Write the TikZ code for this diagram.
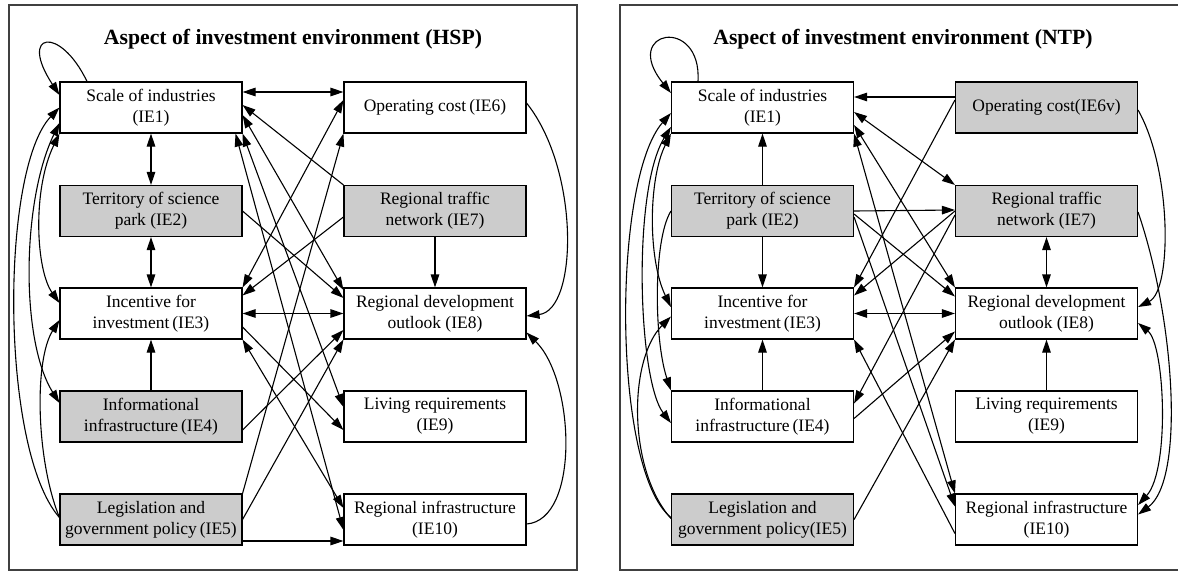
\documentclass[tikz,border=0pt]{standalone}
\usepackage{fontspec}
\setmainfont{Liberation Serif}
\usetikzlibrary{arrows.meta}
\tikzset{
  box/.style={draw, line width=1.1pt, minimum width=182pt, minimum height=51pt,
    align=center, inner sep=0pt, font=\fontsize{17.5}{21}\selectfont},
  shaded/.style={box, fill=black!20},
  arr/.style={-{Triangle[length=13pt,width=8.5pt]}, line width=1.1pt},
  darr/.style={{Triangle[length=13pt,width=8.5pt]}-{Triangle[length=13pt,width=8.5pt]}, line width=1.1pt},
  frame/.style={draw=black!75, line width=1.4pt},
  heading/.style={font=\fontsize{21.7}{26}\selectfont\bfseries}
}
\begin{document}
\begin{tikzpicture}[x=1pt,y=-1pt]
\useasboundingbox (0,0) rectangle (1178,571);

% ---------- HSP panel ----------
\draw[frame] (9,5) rectangle (577,570);
\node[heading] (th) at (293,39) {Aspect of investment environment (HSP)};
\node[box]    (L1)  at (151,107.5) {Scale of industries\\(IE1)};
\node[box]    (L6)  at (435,107.5) {Operating cost\,(IE6)};
\node[shaded] (L2)  at (151,211)   {Territory of science\\park (IE2)};
\node[shaded] (L7)  at (435,211)   {Regional traffic\\network (IE7)};
\node[box]    (L3)  at (151,313.5) {Incentive for\\investment\,(IE3)};
\node[box]    (L8)  at (435,313.5) {Regional development\\outlook (IE8)};
\node[shaded] (L4)  at (151,416.5) {Informational\\infrastructure\,(IE4)};
\node[box]    (L9)  at (435,416.5) {Living requirements\\(IE9)};
\node[shaded] (L5)  at (151,519.5) {Legislation and\\government policy\,(IE5)};
\node[box]    (L10) at (435,519.5) {Regional infrastructure\\(IE10)};

% straight links
\draw[arr] ([xshift=-64pt]L1.north) .. controls (60,25) and (18,32) .. ([yshift=12.5pt]L1.west);
\draw[darr] ([yshift=15.5pt]L1.east) -- ([yshift=15.5pt]L6.west);
\draw[darr] (L1.south) -- (L2.north);
\draw[darr] (L2.south) -- (L3.north);
\draw[arr] (L4.north) -- (L3.south);
\draw[darr] (L3.east) -- (L8.west);
\draw[arr] (L7.south) -- (L8.north);
\draw[arr] ([yshift=-21.5pt]L5.east) -- ([yshift=-21.5pt]L10.west);
\draw[arr] ([yshift=4.5pt]L6.east) .. controls (580,170) and (578,310) .. ([yshift=-2.5pt]L8.east);
\draw[arr] ([yshift=-4.5pt]L10.east) .. controls (580,520) and (575,380) .. ([yshift=-19pt]L8.east);

% crossing links
\draw[arr] (L7.north west) -- ([yshift=2.5pt]L1.east);
\draw[darr] ([yshift=-7.5pt]L1.east) -- ([yshift=23.5pt]L8.west);
\draw[darr] (L1.south east) -- ([yshift=9.5pt]L9.west);
\draw[darr] ([xshift=-7pt]L1.south east) -- ([yshift=-10.5pt]L10.west);
\draw[arr] (L2.east) -- ([yshift=15.5pt]L8.west);
\draw[arr] ([yshift=-6pt]L7.west) -- ([yshift=-8pt]L3.north east);
\draw[darr] ([yshift=7.5pt]L6.west) -- (L3.north east);
\draw[arr] (L5.north east) -- (L6.south west);
\draw[arr] (L5.east) -- (L8.south west);
\draw[arr] ([yshift=-13.5pt]L4.east) -- ([yshift=-16.5pt]L8.west);
\draw[arr] ([yshift=-13.5pt]L3.east) -- ([yshift=-13.5pt]L9.west);
\draw[darr] (L3.south east) -- ([yshift=11.5pt]L10.west);

% links round the left side
\draw[arr] ([yshift=2pt]L5.west) .. controls (0,450) and (0,170) .. ([yshift=0pt]L1.west);
\draw[darr] ([yshift=-15.5pt]L1.west) .. controls (22,200) and (20,340) .. ([yshift=13.5pt]L4.west);
\draw[darr] (L1.south west) .. controls (32,190) and (36,270) .. ([yshift=10.5pt]L3.west);
\draw[arr] ([yshift=2pt]L5.west) .. controls (36,460) and (34,360) .. ([yshift=-6.5pt]L3.west);

% ---------- NTP panel ----------
\draw[frame] (620,5) rectangle (1190,570);
\node[heading] (tn) at (903,39) {Aspect of investment environment (NTP)};
\node[box]    (R1)  at (762.5,107.5)  {Scale of industries\\(IE1)};
\node[shaded] (R6)  at (1046.5,107.5) {Operating cost(IE6v)};
\node[shaded] (R2)  at (762.5,211)    {Territory of science\\park (IE2)};
\node[shaded] (R7)  at (1046.5,211)   {Regional traffic\\network (IE7)};
\node[box]    (R3)  at (762.5,313.5)  {Incentive for\\investment\,(IE3)};
\node[box]    (R8)  at (1046.5,313.5) {Regional development\\outlook (IE8)};
\node[box]    (R4)  at (762.5,416.5)  {Informational\\infrastructure\,(IE4)};
\node[box]    (R9)  at (1046.5,416.5) {Living requirements\\(IE9)};
\node[shaded] (R5)  at (762.5,519.5)  {Legislation and\\government policy(IE5)};
\node[box]    (R10) at (1046.5,519.5) {Regional infrastructure\\(IE10)};

% straight links
\draw[arr] ([xshift=-64.5pt]R1.north) .. controls (702,15) and (620,30) .. ([yshift=14.5pt]R1.west);
\draw[arr] ([yshift=10.5pt]R6.west) -- ([yshift=10.5pt]R1.east);
\draw[arr] (R2.north) -- (R1.south);
\draw[arr] (R2.south) -- (R3.north);
\draw[arr] (R4.north) -- (R3.south);
\draw[darr] (R7.south) -- (R8.north);
\draw[arr] (R9.north) -- (R8.south);
\draw[darr] (R3.east) -- (R8.west);
\draw[arr] (R2.east) -- ([yshift=1pt]R7.west);
\draw[arr] ([yshift=-2.5pt]R6.east) .. controls (1172,170) and (1172,290) .. ([yshift=6.5pt]R8.east);
\draw[arr] ([yshift=-1pt]R7.east) .. controls (1175,320) and (1185,480) .. ([yshift=5pt]R10.east);
\draw[darr] ([yshift=-9.5pt]R8.east) .. controls (1165,345) and (1170,470) .. ([yshift=14.5pt]R10.east);

% crossing links
\draw[darr] ([yshift=-4.5pt]R1.east) -- (R7.north west);
\draw[darr] ([yshift=-17.5pt]R1.east) -- (R8.north west);
\draw[darr] (R1.south east) -- (R10.north west);
\draw[arr] ([yshift=7.5pt]R6.west) -- (R3.north east);
\draw[arr] (R7.west) -- ([yshift=-8pt]R3.north east);
\draw[arr] ([yshift=-4pt]R7.west) -- ([yshift=13pt]R4.east);
\draw[arr] ([yshift=-2pt]R4.east) -- ([yshift=-18pt]R8.west);
\draw[arr] (R5.east) -- (R8.south west);
\draw[arr] ([yshift=-14pt]R10.west) -- (R3.south east);
\draw[arr] ([yshift=-3pt]R2.east) -- ([yshift=17pt]R8.west);
\draw[arr] ([yshift=-6pt]R2.east) -- ([yshift=13pt]R10.west);

% links round the left side
\draw[arr] ([yshift=2pt]R5.west) .. controls (612,470) and (612,180) .. ([yshift=-5.5pt]R1.west);
\draw[darr] ([yshift=-19.5pt]R1.west) .. controls (632,190) and (638,380) .. ([yshift=-6.5pt]R4.west);
\draw[darr] (R1.south west) .. controls (648,180) and (648,260) .. ([yshift=6.5pt]R3.west);
\draw[arr] (R2.west) .. controls (653,240) and (654,340) .. (R4.north west);
\draw[arr] ([yshift=1pt]R5.west) .. controls (628,470) and (628,360) .. ([yshift=-3pt]R3.west);
\end{tikzpicture}
\end{document}
